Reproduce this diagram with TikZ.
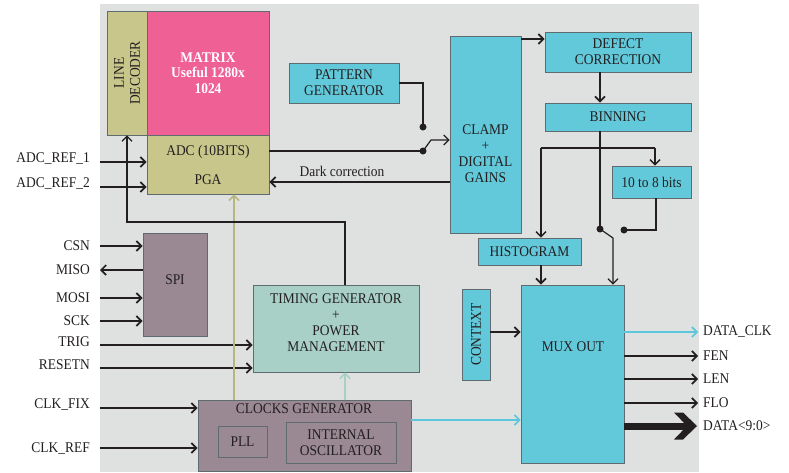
\documentclass[tikz,border=0pt]{standalone}
\usepackage{fontspec}
\setmainfont{Liberation Serif}[FakeStretch=0.91]
\usetikzlibrary{arrows.meta}
\definecolor{bg}{HTML}{DEE1E0}
\definecolor{khaki}{HTML}{C8C68B}
\definecolor{pinkm}{HTML}{EF6094}
\definecolor{cyanb}{HTML}{62C9DB}
\definecolor{cyanl}{HTML}{5CC6DC}
\definecolor{mauve}{HTML}{9A8893}
\definecolor{mint}{HTML}{A8D0C6}
\definecolor{ink}{HTML}{231F20}
\definecolor{edge}{HTML}{5F6B6E}
\begin{document}
\begin{tikzpicture}[x=1pt,y=-1pt,
  txt/.style={font=\fontsize{14.8}{16}\selectfont, text=ink, inner sep=0pt, align=center},
  box/.style={txt, draw=edge, line width=0.9pt},
  tip/.style={-{Straight Barb[length=5pt,width=10pt]}},
  arr/.style={line width=1.7pt, draw=ink, tip},
  ln/.style={line width=1.7pt, draw=ink},
  dot/.style={fill=ink}]
\useasboundingbox (0,0) rectangle (789,472);
\fill[bg] (100,4) rectangle (699,472);

% boxes
\node[box, fill=khaki, minimum width=40pt, minimum height=124pt] (linedec) at (127,73) {};
\node[txt, rotate=90] (linedect) at (linedec.center) {LINE\\DECODER};
\node[box, fill=pinkm, minimum width=122pt, minimum height=124pt, text=white, font=\fontsize{14.8}{15.5}\selectfont\bfseries] (matrix) at (208,73) {MATRIX\\Useful 1280x\\1024};
\node[box, fill=khaki, minimum width=122pt, minimum height=59pt] (adc) at (208,164.5) {};
\node[txt] (adct) at (208,152) {ADC (10BITS)};
\node[txt] (pgat) at (208,180) {PGA};
\node[box, fill=cyanb, minimum width=110pt, minimum height=40pt] (pattern) at (344,83) {PATTERN\\GENERATOR};
\node[box, fill=cyanb, minimum width=71pt, minimum height=197pt] (clamp) at (485.5,134.5) {};
\node[txt] (clampt) at (485.5,153.5) {CLAMP\\+\\DIGITAL\\GAINS};
\node[box, fill=cyanb, minimum width=146pt, minimum height=40pt] (defect) at (618,52) {DEFECT\\CORRECTION};
\node[box, fill=cyanb, minimum width=146pt, minimum height=28pt] (binning) at (618,117) {BINNING};
\node[box, fill=cyanb, minimum width=79pt, minimum height=32pt] (tenbits) at (651.5,182) {10 to 8 bits};
\node[box, fill=cyanb, minimum width=103pt, minimum height=27pt] (histo) at (529.5,251.5) {HISTOGRAM};
\node[box, fill=cyanb, minimum width=103pt, minimum height=178pt] (mux) at (572.5,374) {};
\node[txt] (muxt) at (573,347) {MUX OUT};
\node[box, fill=cyanb, minimum width=28pt, minimum height=91pt] (context) at (476,334.5) {};
\node[txt, rotate=90] (contextt) at (context.center) {CONTEXT};
\node[box, fill=mauve, minimum width=64pt, minimum height=103pt] (spi) at (175,284.5) {};
\node[txt] (spit) at (175,280) {SPI};
\node[box, fill=mint, minimum width=166pt, minimum height=87pt] (timing) at (336,328.5) {};
\node[txt] (timingt) at (336,323) {TIMING GENERATOR\\+\\POWER\\MANAGEMENT};
\node[box, fill=mauve, minimum width=213pt, minimum height=71pt] (clocks) at (304.5,435.5) {};
\node[txt] (clockst) at (304,409) {CLOCKS GENERATOR};
\node[box, fill=mauve, minimum width=49pt, minimum height=31pt] (pll) at (242.5,441.5) {PLL};
\node[box, fill=mauve, minimum width=110pt, minimum height=41pt] (osc) at (341,442.5) {INTERNAL\\OSCILLATOR};

% left labels
\node[txt, anchor=east] (lr1) at (90,159) {ADC\_REF\_1};
\node[txt, anchor=east] (lr2) at (90,184) {ADC\_REF\_2};
\node[txt, anchor=east] (lcsn) at (90,246) {CSN};
\node[txt, anchor=east] (lmiso) at (90,270) {MISO};
\node[txt, anchor=east] (lmosi) at (90,298) {MOSI};
\node[txt, anchor=east] (lsck) at (90,321) {SCK};
\node[txt, anchor=east] (ltrig) at (90,342) {TRIG};
\node[txt, anchor=east] (lrst) at (90,365) {RESETN};
\node[txt, anchor=east] (lfix) at (90,405) {CLK\_FIX};
\node[txt, anchor=east] (lref) at (90,449) {CLK\_REF};

\coordinate (cr1) at (100,162);
\coordinate (cr2) at (100,187);
\coordinate (ccsn) at (100,246);
\coordinate (cmiso) at (100,270);
\coordinate (cmosi) at (100,298);
\coordinate (csck) at (100,321);
\coordinate (ctrig) at (100,345);
\coordinate (crst) at (100,368);
\coordinate (cfix) at (100,408);
\coordinate (cref) at (100,448);

\draw[arr] (cr1) -- (cr1 -| adc.west);
\draw[arr] (cr2) -- (cr2 -| adc.west);
\draw[arr] (ccsn) -- (ccsn -| spi.west);
\draw[arr] (cmiso -| spi.west) -- (cmiso);
\draw[arr] (cmosi) -- (cmosi -| spi.west);
\draw[arr] (csck) -- (csck -| spi.west);
\draw[arr] (ctrig) -- (ctrig -| timing.west);
\draw[arr] (crst) -- (crst -| timing.west);
\draw[arr] (cfix) -- (cfix -| clocks.west);
\draw[arr] (cref) -- (cref -| clocks.west);

% clocks to PGA / timing
\coordinate (ck1) at (234,400);
\draw[line width=1.6pt, draw=khaki!92!black, tip] (ck1) -- (ck1 |- adc.south);
\coordinate (ck2) at (345,400);
\draw[line width=1.6pt, draw=mint, tip] (ck2) -- (ck2 |- timing.south);
% timing to line decoder
\coordinate (tg) at (345,285);
\draw[line width=1.2pt, draw=ink, tip] (tg) -- (345,222) -| (linedec.south);
% clocks to mux
\coordinate (ck3) at (411,420);
\draw[line width=1.6pt, draw=cyanl, tip] (ck3) -- (ck3 -| mux.west);
% context
\coordinate (cx) at (490,332);
\draw[arr] (cx) -- (cx -| mux.west);

% outputs
\coordinate (oclk) at (624,332);
\coordinate (ofen) at (624,356);
\coordinate (olen) at (624,379);
\coordinate (oflo) at (624,403);
\coordinate (odat) at (624,426);
\coordinate (eclk) at (698,332);
\coordinate (efen) at (698,356);
\coordinate (elen) at (698,379);
\coordinate (eflo) at (698,403);
\coordinate (edat) at (697,426);
\coordinate (sdat) at (688,426);
\draw[line width=1.6pt, draw=cyanl, tip] (oclk) -- (eclk);
\draw[arr] (ofen) -- (efen);
\draw[arr] (olen) -- (elen);
\draw[arr] (oflo) -- (eflo);
\draw[line width=7pt, draw=ink] (odat) -- (sdat);
\fill[ink] (edat) -- ++(-14,-13.5) -- ++(-9,0) -- ++(13,13.5) -- ++(-13,13.5) -- ++(9,0) -- cycle;
\node[txt, anchor=west] (tclk) at (703,332) {DATA\_CLK};
\node[txt, anchor=west] (tfen) at (703,356) {FEN};
\node[txt, anchor=west] (tlen) at (703,379) {LEN};
\node[txt, anchor=west] (tflo) at (703,403) {FLO};
\node[txt, anchor=west] (tdat) at (703,426) {DATA<9:0>};

% ADC -> switch -> clamp
\coordinate (s1) at (423,151);
\coordinate (s2) at (423,127);
\draw[ln] (269,151) -- (s1);
\draw[ln, line width=1.2pt] (pattern.east) -- (423,83) -- (s2);
\fill[dot] (s1) circle (3.5pt);
\fill[dot] (s2) circle (3.5pt);
\draw[line width=1.2pt, draw=ink, tip] (s1) -- (431,140) -- (431,140 -| clamp.west);
% dark correction
\coordinate (dc) at (450,182);
\draw[arr] (dc) -- (dc -| adc.east);
\node[txt, anchor=south] (dct) at (342,177) {Dark correction};
% clamp -> defect
\coordinate (cd) at (521,39);
\draw[arr] (cd) -- (cd -| defect.west);
% defect -> binning
\draw[arr] (defect.south -| 600,0) -- (binning.north -| 600,0);
% binning fan-out
\coordinate (b1) at (600,131);
\coordinate (b2) at (600,229);
\draw[ln] (b1) -- (b2);
\fill[dot] (b2) circle (3.5pt);
\coordinate (bl) at (541,148);
\coordinate (br) at (655,148);
\draw[line width=1.4pt, draw=ink] (bl) -- (br);
\draw[line width=1.4pt, draw=ink, tip] (bl) -- (bl |- histo.north);
\draw[line width=1.4pt, draw=ink, tip] (br) -- (br |- tenbits.north);
% 10 to 8 -> switch
\coordinate (t1) at (656,198);
\coordinate (t3) at (624,230);
\draw[line width=1.2pt, draw=ink] (t1) -- (656,230) -- (t3);
\fill[dot] (t3) circle (3.5pt);
\draw[line width=1.2pt, draw=ink, tip] (b2) -- (613,238) -- (613,238 |- mux.north);
% histogram -> mux
\coordinate (h1) at (541,265);
\draw[arr] (h1) -- (h1 |- mux.north);
\end{tikzpicture}
\end{document}
